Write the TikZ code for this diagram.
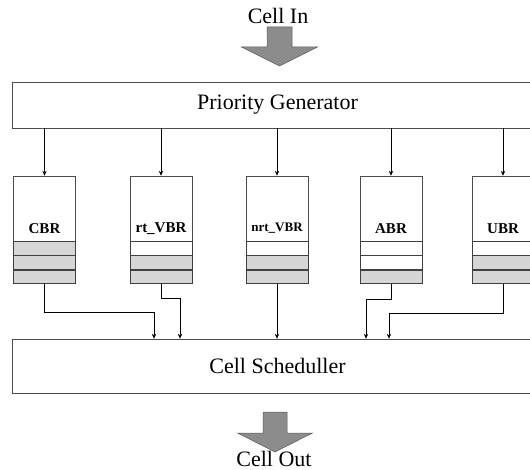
\documentclass[tikz,border=0pt]{standalone}
\usepackage{fontspec}
\setmainfont{Liberation Serif}
\usetikzlibrary{arrows.meta,positioning}

\begin{document}
\begin{tikzpicture}[x=1pt,y=-1pt,
  >=Stealth,
  link/.style={draw=black,line width=.7pt,-{Stealth[length=1.7mm,width=1.5mm]}},
  block/.style={draw=black!70,fill=white,line width=.6pt,minimum width=530pt,
    minimum height=46pt,inner sep=0pt,font=\fontsize{22}{25}\selectfont},
  queue/.style={draw=black!70,fill=white,line width=.6pt,minimum width=62pt,
    minimum height=65pt,inner sep=0pt},
  qname/.style={font=\fontsize{15}{17}\selectfont\bfseries,inner sep=0pt},
  slotempty/.style={draw=black!75,fill=white,line width=.5pt,minimum width=62pt,
    minimum height=13.7pt,inner sep=0pt},
  slotfull/.style={slotempty,fill=black!16},
  bigarrow/.style={draw=black!65,fill=black!45,line width=.5pt},
  caption/.style={font=\fontsize{22}{25}\selectfont,inner sep=0pt}]

\useasboundingbox (0,0) rectangle (530,470);

\node[caption] (cellin) at (278,16) {Cell In};
\coordinate (inarrow) at (279.5,27);
\draw[bigarrow] (inarrow) ++(-12.5,0) -- ++(25,0) -- ++(0,20) -- ++(25.5,0)
  -- ++(-38,19) -- ++(-38,-19) -- ++(25.5,0) -- cycle;

\node[block] (prio) at (277.5,105) {Priority Generator};

\node[queue] (cbr) at (44.5,208.5) {};
\node[queue] (rtvbr) at (161,208.5) {};
\node[queue] (nrtvbr) at (277,208.5) {};
\node[queue] (abr) at (391,208.5) {};
\node[queue] (ubr) at (503,208.5) {};

\node[qname] (cbrname) at ([yshift=-20pt]cbr.center) {CBR};
\node[qname] (rtvbrname) at ([yshift=-20pt]rtvbr.center) {rt\_VBR};
\node[qname,font=\fontsize{13}{15}\selectfont\bfseries] (nrtvbrname)
  at ([yshift=-20pt]nrtvbr.center) {nrt\_VBR};
\node[qname] (abrname) at ([yshift=-20pt]abr.center) {ABR};
\node[qname] (ubrname) at ([yshift=-20pt]ubr.center) {UBR};

% queue slots
\node[slotfull,below=0pt of cbr] (cbr1) {};
\node[slotfull,below=0pt of cbr1] (cbr2) {};
\node[slotfull,below=0pt of cbr2] (cbr3) {};
\node[slotempty,below=0pt of rtvbr] (rtvbr1) {};
\node[slotfull,below=0pt of rtvbr1] (rtvbr2) {};
\node[slotfull,below=0pt of rtvbr2] (rtvbr3) {};
\node[slotempty,below=0pt of nrtvbr] (nrtvbr1) {};
\node[slotfull,below=0pt of nrtvbr1] (nrtvbr2) {};
\node[slotfull,below=0pt of nrtvbr2] (nrtvbr3) {};
\node[slotempty,below=0pt of abr] (abr1) {};
\node[slotempty,below=0pt of abr1] (abr2) {};
\node[slotfull,below=0pt of abr2] (abr3) {};
\node[slotempty,below=0pt of ubr] (ubr1) {};
\node[slotfull,below=0pt of ubr1] (ubr2) {};
\node[slotfull,below=0pt of ubr2] (ubr3) {};

\node[block,minimum height=54pt] (sched) at (277.5,366) {Cell Scheduller};

\draw[link] (prio.south -| cbr.north) -- (cbr.north);
\draw[link] (prio.south -| rtvbr.north) -- (rtvbr.north);
\draw[link] (prio.south -| nrtvbr.north) -- (nrtvbr.north);
\draw[link] (prio.south -| abr.north) -- (abr.north);
\draw[link] (prio.south -| ubr.north) -- (ubr.north);

\coordinate (cbrbend) at (154,312);
\coordinate (rtvbrbend) at (180,298);
\coordinate (abrbend) at (366,299);
\coordinate (ubrbend) at (389,313);
\draw[link] (cbr3.south) |- (cbrbend) -- (cbrbend |- sched.north);
\draw[link] (rtvbr3.south) |- (rtvbrbend) -- (rtvbrbend |- sched.north);
\draw[link] (nrtvbr3.south) -- (nrtvbr3.south |- sched.north);
\draw[link] (abr3.south) |- (abrbend) -- (abrbend |- sched.north);
\draw[link] (ubr3.south) |- (ubrbend) -- (ubrbend |- sched.north);

\coordinate (outarrow) at (275,412);
\draw[bigarrow] (outarrow) ++(-12,0) -- ++(24,0) -- ++(0,21) -- ++(25.5,0)
  -- ++(-37.5,19) -- ++(-37.5,-19) -- ++(25.5,0) -- cycle;
\node[caption] (cellout) at (274,459) {Cell Out};
\end{tikzpicture}
\end{document}
